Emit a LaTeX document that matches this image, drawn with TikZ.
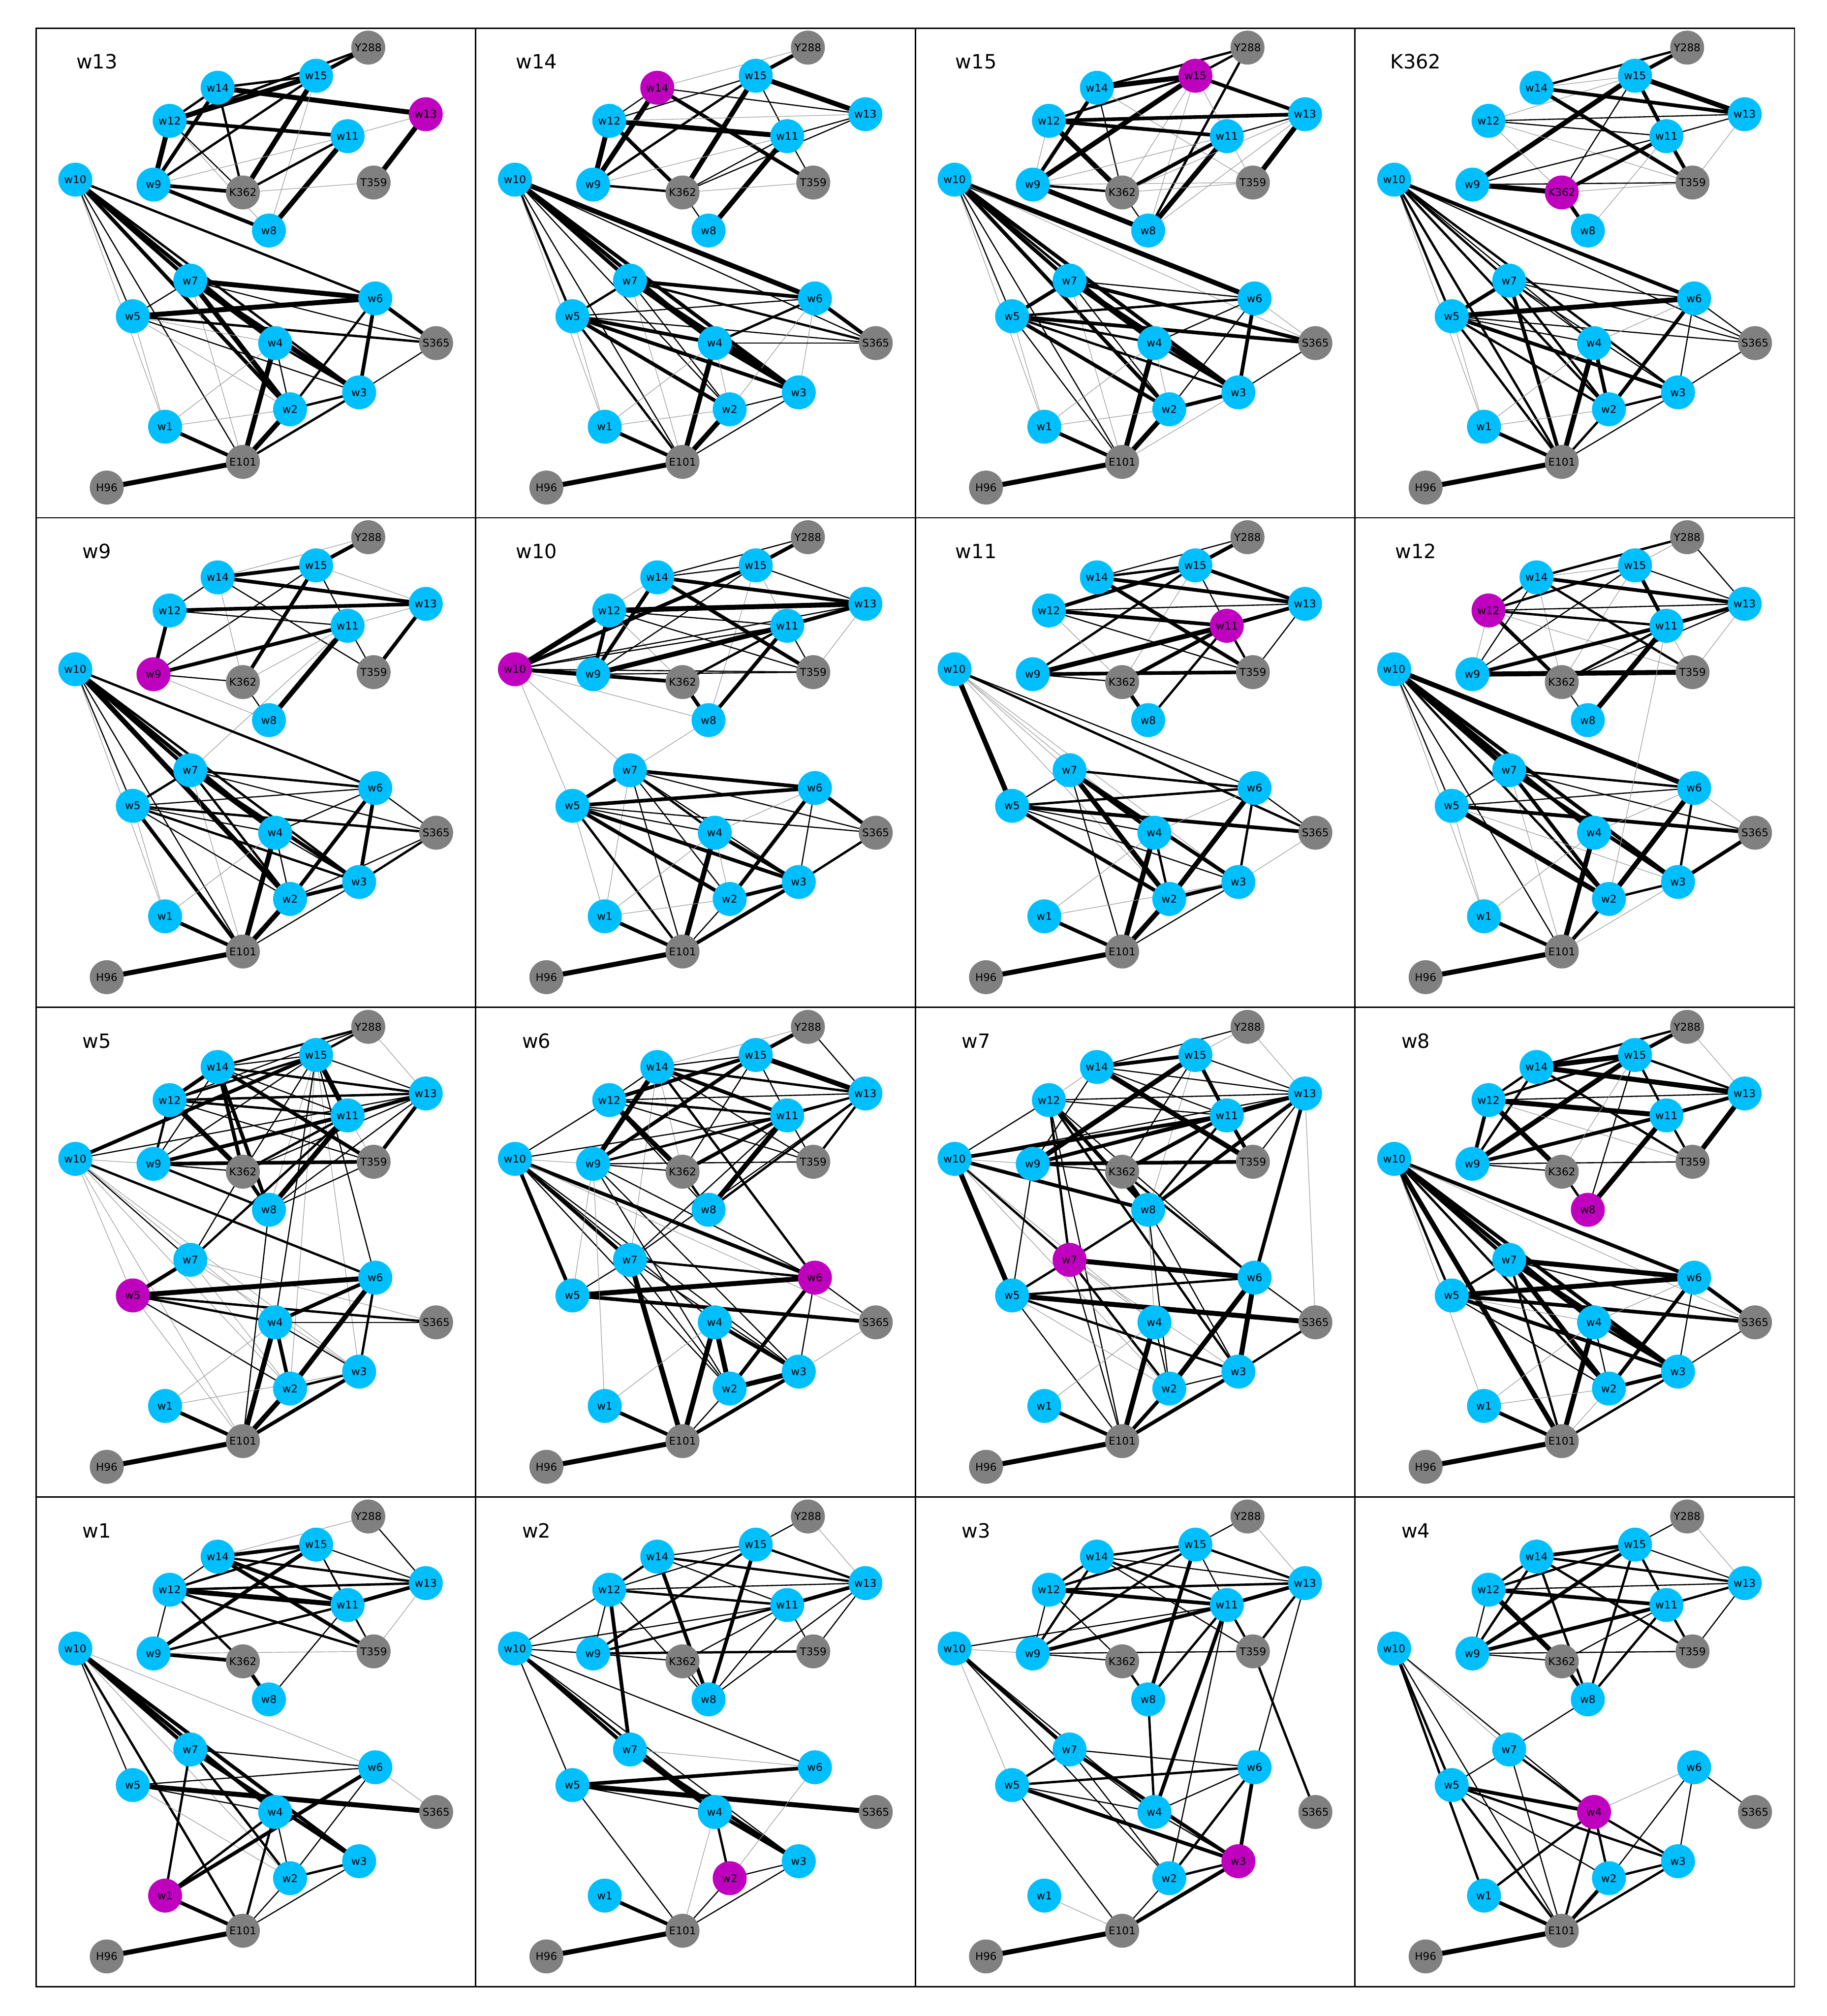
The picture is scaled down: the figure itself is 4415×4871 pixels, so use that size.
\documentclass[tikz,border=0pt]{standalone}
\usepackage{fontspec}
\setmainfont{DejaVu Sans}
\usepackage{xcolor}
\usepackage{tikz}
\usetikzlibrary{positioning}
\definecolor{wellc}{RGB}{0,191,255}
\definecolor{focusc}{RGB}{191,0,191}
\definecolor{resc}{RGB}{128,128,128}
\pgfdeclarelayer{edges}
\pgfsetlayers{edges,main}

\tikzset{
  wnode/.style={circle,fill=wellc,minimum size=0.82cm,inner sep=0pt,text=black,
    font=\fontsize{7.3}{8}\selectfont},
  rnode/.style={wnode,fill=resc},
  fnode/.style={wnode,fill=focusc},
  ptitle/.style={font=\fontsize{13.5}{16}\selectfont},
  pframe/.style={draw=black,line width=1pt},
  wt1/.style={line width=0.4pt,black!40},
  wt2/.style={line width=0.8pt,black},
  wt3/.style={line width=1.6pt,black},
  wt4/.style={line width=2.5pt,black},
  wt5/.style={line width=3.4pt,black},
}

% node layout shared by all panels (pixels, y downwards)
\def\layout{w1/312/963/w, w2/614/921/w, w3/781/880/w, w4/578/761/w, w5/234/696/w,
  w6/820/653/w, w7/373/610/w, w8/563/489/w, w9/284/378/w, w10/95/366/w,
  w11/753/261/w, w12/323/224/w, w13/942/208/w, w14/439/144/w, w15/677/115/w,
  Y288/803/47/r, T359/816/373/r, K362/500/397/r, S365/967/761/r,
  E101/500/1048/r, H96/171/1110/r}

% #1 column, #2 row, #3 focus node, #4 edges a/b/weight
\newcommand{\netpanel}[4]{%
  \begin{scope}[shift={({87+#1*1062.5},{68+#2*1183})}]
    \def\pp{p#1#2}\def\focus{#3}
    \draw[pframe] (0,0) rectangle (1062.5,1183);
    \node[ptitle] (\pp title) at (147,81) {#3};
    \foreach \n/\px/\py/\t in \layout {
      \edef\nm{\n}
      \ifx\nm\focus
        \node[fnode] (\pp\n) at (\px,\py) {\n};
      \else\if\t w
        \node[wnode] (\pp\n) at (\px,\py) {\n};
      \else
        \node[rnode] (\pp\n) at (\px,\py) {\n};
      \fi\fi
    }
    \begin{pgfonlayer}{edges}
      \foreach \a/\b/\w in {#4}
        \draw[wt\w] (\pp\a.center) -- (\pp\b.center);
    \end{pgfonlayer}
  \end{scope}}

\begin{document}
\begin{tikzpicture}[x=0.01cm,y=-0.01cm]
  \useasboundingbox (0,0) rectangle (4415,4871);
  % ---- row 1 ----
  \netpanel{0}{0}{w13}{Y288/w15/4, Y288/w12/3, w12/w15/5, w14/w15/3, w14/w13/5, w14/w12/3,
    w14/w9/4, w14/K362/3, w12/w11/4, w12/w9/5, w12/K362/2, w12/w8/1, w15/w9/3, w15/K362/5,
    w15/w8/1, w11/K362/3, w11/w8/5, w11/w9/1, w9/K362/4, w9/w8/4, w13/T359/5, T359/K362/1,
    w13/w11/1, w10/w6/3, w10/w7/4, w10/w4/4, w10/w3/3, w10/w2/4, w10/E101/2, w10/w5/2,
    w10/w1/1, w7/w6/5, w7/w5/2, w7/w3/5, w7/w2/5, w7/S365/2, w7/w4/3, w7/E101/1, w5/w6/5,
    w5/S365/3, w5/w3/2, w5/w2/1, w5/w4/1, w5/w1/1, w6/S365/4, w6/w3/4, w6/w2/3, w4/w2/2,
    w4/E101/5, w4/w1/1, w4/w3/3, S365/w3/2, w2/w3/3, w2/E101/5, w3/E101/3, w1/E101/4,
    w1/w2/1, H96/E101/5}
  \netpanel{1}{0}{w14}{Y288/w15/4, Y288/w14/1, w15/w13/5, w15/w12/2, w15/w9/3, w15/K362/5,
    w15/w11/2, w14/w13/2, w14/w12/2, w14/w9/5, w14/T359/4, w12/w11/5, w12/w9/5, w12/K362/4,
    w12/w13/1, w9/K362/3, w9/w11/1, w11/w13/2, w11/K362/2, w11/w8/5, w11/T359/2, K362/w8/2,
    K362/T359/1, w13/K362/2, w10/w6/5, w10/w7/4, w10/w4/4, w10/w5/3, w10/E101/2, w10/w2/2,
    w10/S365/2, w10/w3/4, w10/w1/1, w7/w6/4, w7/w5/3, w7/w3/5, w7/w4/3, w7/S365/3, w7/w2/2,
    w7/E101/1, w5/w6/2, w5/w4/4, w5/w3/4, w5/w2/4, w5/E101/3, w5/S365/2, w5/w1/1,
    w6/S365/4, w6/w4/3, w6/w2/1, w6/w3/1, w4/S365/2, w4/E101/5, w4/w2/1, w4/w3/4, w2/w3/2,
    w2/E101/5, w3/E101/2, w1/E101/4, w1/w2/1, w1/w4/1, H96/E101/5}
  \netpanel{2}{0}{w15}{Y288/w14/3, Y288/w15/3, Y288/w8/3, w15/w14/5, w15/w12/3, w15/w13/4,
    w15/w9/5, w15/K362/1, w15/w8/1, w15/T359/1, w14/w9/4, w14/K362/2, w14/T359/1,
    w12/w13/4, w12/w11/4, w12/K362/5, w12/w9/1, w9/K362/3, w9/w8/5, w9/w11/1, w9/T359/1,
    w11/K362/4, w11/w8/5, w11/w13/2, w13/T359/5, w13/K362/1, w13/w8/1, K362/w8/2,
    K362/T359/1, w10/w6/5, w10/w7/4, w10/w4/3, w10/w3/4, w10/w2/4, w10/E101/2, w10/w5/2,
    w10/S365/1, w10/w1/1, w7/w6/2, w7/S365/4, w7/w5/4, w7/w3/5, w7/w2/2, w7/w4/3,
    w7/E101/1, w5/w6/3, w5/S365/4, w5/w4/3, w5/w3/3, w5/w2/4, w5/E101/2, w5/w1/1, w6/w3/4,
    w6/w2/2, w6/w4/2, w6/S365/1, w4/E101/5, w4/w3/3, w4/w1/1, w4/w2/1, S365/w3/2, w2/w3/4,
    w2/E101/5, w3/E101/1, w1/E101/4, w1/w2/1, H96/E101/5}
  \netpanel{3}{0}{K362}{Y288/w14/3, Y288/w15/4, w15/w13/5, w15/w11/4, w15/w9/5,
    w15/K362/2, w15/w12/1, w15/w14/1, w14/w13/4, w14/T359/4, w12/w13/2, w12/w11/2,
    w12/T359/1, w12/K362/1, w11/w13/2, w11/T359/4, w11/w9/2, w11/K362/4, w11/w8/1,
    w9/K362/5, w9/T359/2, K362/w8/4, K362/T359/1, w13/T359/1, w10/w6/4, w10/S365/2,
    w10/w7/3, w10/w4/2, w10/w3/3, w10/w2/3, w10/E101/3, w10/w5/3, w10/w1/1, w7/w6/2,
    w7/S365/2, w7/w5/4, w7/w4/2, w7/w3/2, w7/w2/3, w7/E101/4, w5/w6/5, w5/S365/2, w5/w4/2,
    w5/w3/4, w5/w2/3, w5/E101/3, w5/w1/1, w6/S365/2, w6/w2/4, w6/w3/2, w6/w4/1, w4/E101/5,
    w4/w2/4, w4/w1/1, S365/w3/2, w2/w3/3, w2/E101/3, w3/E101/2, w1/E101/4, w1/w2/1,
    H96/E101/5}
  % ---- row 2 ----
  \netpanel{0}{1}{w9}{Y288/w15/4, Y288/w14/1, w15/w14/4, w15/K362/4, w15/w9/2, w15/w13/1,
    w15/w11/2, w14/w13/4, w14/w12/2, w14/T359/2, w14/K362/1, w12/w13/4, w12/w9/4,
    w12/w11/2, w9/w11/4, w9/K362/2, w9/w8/1, w11/w13/1, w11/T359/2, w11/w8/5, w11/K362/1,
    w13/T359/4, K362/w8/2, w11/w7/1, w10/w6/3, w10/w7/4, w10/w4/4, w10/w2/5, w10/w3/3,
    w10/w5/2, w10/E101/2, w10/w1/1, w7/w6/3, w7/S365/2, w7/w5/3, w7/w3/4, w7/w4/3,
    w7/w2/3, w7/E101/1, w5/w6/2, w5/S365/3, w5/w4/2, w5/w3/3, w5/w2/2, w5/E101/4, w5/w1/1,
    w6/w2/4, w6/w3/4, w6/w4/2, w6/S365/2, w4/E101/5, w4/w2/2, w4/w3/2, w4/w1/1, S365/w3/3,
    S365/w2/2, w2/w3/4, w2/E101/5, w3/E101/2, w1/E101/4, H96/E101/5}
  \netpanel{1}{1}{w10}{Y288/w15/4, Y288/w14/2, w15/w14/2, w15/w10/4, w15/w13/2, w15/w9/2,
    w15/w11/1, w15/w8/1, w14/w13/4, w14/T359/4, w14/w9/4, w14/w10/1, w12/w13/5, w12/w10/5,
    w12/w9/4, w12/T359/2, w12/K362/1, w12/w11/2, w10/w11/2, w10/w13/2, w10/w9/4,
    w10/K362/4, w10/T359/2, w10/w8/1, w9/w11/5, w9/w13/2, w9/T359/2, w9/K362/3, w11/w13/4,
    w11/K362/3, w11/w8/4, w11/T359/2, w13/T359/1, K362/w8/4, w10/w5/1, w10/w7/1, w8/w7/1,
    w7/w6/4, w7/w5/4, w7/S365/2, w7/w4/3, w7/w3/2, w7/w2/2, w7/E101/2, w7/w1/1, w5/w6/4,
    w5/S365/2, w5/w4/2, w5/w3/4, w5/w2/4, w5/E101/3, w5/w1/1, w6/S365/4, w6/w2/4, w6/w3/2,
    w6/w4/1, w4/w3/4, w4/E101/5, w4/w2/1, w4/w1/1, S365/w3/3, w2/w3/4, w2/E101/2,
    w3/E101/4, w1/E101/4, w1/w2/1, H96/E101/5}
  \netpanel{2}{1}{w11}{Y288/w14/2, Y288/w15/4, w15/w14/3, w15/w12/4, w15/w9/3, w15/w13/4,
    w15/w11/2, w15/K362/1, w14/w13/4, w14/T359/4, w12/w13/2, w12/w11/4, w12/T359/2,
    w12/K362/1, w9/w11/5, w9/T359/4, w9/K362/2, w11/K362/4, w11/w13/4, w11/T359/3,
    w11/w8/3, w13/T359/2, K362/w8/4, w10/w5/5, w10/S365/3, w10/w6/2, w10/w7/1, w10/w4/1,
    w10/w2/1, w10/w3/1, w7/w6/3, w7/w5/2, w7/w4/4, w7/w3/4, w7/w2/5, w7/E101/2, w5/w6/3,
    w5/S365/4, w5/w3/2, w5/w2/4, w5/w4/2, w6/w2/5, w6/w3/3, w6/S365/2, w6/w4/1, w4/E101/5,
    w4/w2/3, w4/w1/1, S365/w3/1, w2/w3/4, w2/E101/5, w3/E101/2, w1/E101/4, w1/w3/1,
    H96/E101/5}
  \netpanel{3}{1}{w12}{Y288/w14/3, Y288/w13/2, Y288/w15/1, w15/w12/3, w15/w13/2, w15/w11/4,
    w15/w9/2, w15/K362/1, w14/w12/3, w14/w13/4, w14/T359/3, w14/w9/2, w14/K362/1,
    w14/w15/1, w12/w13/2, w12/w11/3, w12/K362/4, w12/w9/1, w12/T359/1, w9/w11/4,
    w9/T359/5, w9/w13/2, w11/w13/4, w11/K362/3, w11/w8/5, w11/T359/1, w13/T359/1,
    K362/w8/2, K362/w13/2, w10/w6/5, w10/w7/5, w10/w4/4, w10/w3/4, w10/w2/3, w10/E101/2,
    w10/w5/2, w10/w1/1, w7/w6/3, w7/S365/2, w7/w5/2, w7/w3/4, w7/w2/4, w7/E101/1,
    w5/w6/2, w5/S365/4, w5/w2/5, w5/w3/1, w5/w1/1, w6/w2/5, w6/w3/3, w6/S365/1, w6/w4/1,
    w11/w2/1, w4/E101/5, w4/w1/1, S365/w3/4, w2/w3/3, w2/E101/4, w3/E101/1, w1/E101/4,
    H96/E101/5}
  % ---- row 3 ----
  \netpanel{0}{2}{w5}{Y288/w14/3, Y288/w15/3, Y288/w12/2, Y288/w13/1, w15/w10/4,
    w15/w12/3, w15/w14/2, w15/w13/2, w15/w11/5, w15/K362/2, w15/w9/2, w15/w8/1, w15/w4/2,
    w15/w2/1, w15/w3/1, w15/w6/2, w14/w12/4, w14/w13/3, w14/T359/4, w14/K362/4, w14/w8/4,
    w14/w9/2, w14/w11/2, w12/w13/3, w12/w11/3, w12/K362/5, w12/w9/3, w12/T359/2,
    w9/w13/2, w9/w11/4, w9/T359/4, w9/K362/2, w9/w8/3, w11/w13/4, w11/w8/5, w11/K362/3,
    w11/w7/3, w11/T359/1, w13/T359/4, w13/w8/2, w13/K362/2, T359/w8/2, K362/w8/4,
    K362/w7/2, w10/w13/2, w10/w9/1, w10/w6/3, w10/w5/1, w10/w7/2, w10/w4/1, w10/w2/1,
    w10/w3/1, w10/E101/1, w7/w5/4, w7/S365/1, w7/w3/1, w7/w2/1, w5/w6/5, w5/S365/3,
    w5/w4/3, w5/w2/2, w5/E101/1, w6/w4/4, w6/w2/5, w6/w3/3, w4/S365/2, w4/E101/5,
    w4/w2/4, w4/w3/2, w4/w1/1, w2/w3/3, w2/E101/5, w3/E101/4, w1/E101/4, w1/w3/1,
    w8/E101/2, H96/E101/5}
  \netpanel{1}{2}{w6}{Y288/w15/4, Y288/w14/1, Y288/w13/2, w15/w14/2, w15/w12/4, w15/w13/5,
    w15/w9/4, w15/w11/2, w15/K362/2, w14/w12/2, w14/w9/5, w14/w13/3, w14/w11/4,
    w14/T359/2, w14/w6/3, w14/K362/1, w14/w7/1, w12/w13/2, w12/w11/3, w12/T359/2,
    w12/K362/5, w12/w10/2, w12/w8/2, w9/w11/3, w9/w13/2, w9/T359/2, w9/K362/2, w9/w6/2,
    w9/w3/2, w9/w2/2, w10/w11/2, w10/w9/1, w11/w13/3, w11/K362/4, w11/w8/5, w11/T359/2,
    w11/w7/2, w13/T359/3, w13/w8/3, w13/w7/2, K362/w8/3, w10/w5/4, w10/w6/4, w10/w7/4,
    w10/w4/2, w10/w3/2, w10/w2/2, w10/S365/1, w7/w6/3, w7/E101/5, w7/w5/2, w7/w3/2,
    w7/w2/2, w5/w6/5, w5/S365/4, w5/w9/1, w6/w2/4, w6/w3/2, w6/S365/2, w4/w3/4, w4/w2/5,
    w4/E101/5, w4/w1/1, S365/w3/1, w2/w3/5, w2/E101/2, w3/E101/4, w1/E101/4, w1/w9/1,
    H96/E101/5}
  \netpanel{2}{2}{w7}{Y288/w14/2, Y288/w15/1, Y288/w13/1, w15/w14/4, w15/w9/5, w15/w13/2,
    w15/w11/4, w15/K362/2, w15/w8/1, w14/w13/2, w14/T359/5, w14/w11/2, w14/w9/2,
    w14/w12/1, w12/w13/2, w12/w11/2, w12/w10/2, w12/w7/3, w12/w8/4, w12/w3/3, w12/w6/2,
    w12/E101/2, w10/w11/4, w10/w13/2, w10/w8/4, w10/w9/1, w9/w13/4, w9/w11/3, w9/T359/4,
    w9/K362/2, w11/K362/4, w11/T359/4, w11/w8/3, w11/w13/4, w13/w8/4, w13/T359/2,
    w13/w6/4, w13/S365/1, K362/w8/4, K362/w6/3, w10/w5/5, w10/w7/3, w10/w4/1, w10/w2/1,
    w8/w7/3, w8/w2/2, w8/w3/2, w8/w4/1, w7/w6/5, w7/w5/3, w7/w2/3, w7/w4/1, w7/E101/2,
    w7/w3/1, w9/w5/2, w5/w6/3, w5/S365/5, w5/w3/3, w5/E101/2, w5/w2/1, w6/w3/5, w6/w2/5,
    w6/S365/2, w4/E101/5, w4/w1/1, w4/w2/2, S365/w3/3, w2/w3/2, w2/E101/4, w3/E101/4,
    w1/E101/4, H96/E101/5}
  \netpanel{3}{2}{w8}{Y288/w15/4, Y288/w14/3, Y288/w13/1, w15/w14/5, w15/w12/3, w15/w9/5,
    w15/w13/3, w15/w11/3, w15/w8/2, w14/w12/3, w14/w13/5, w14/T359/3, w14/w9/3,
    w12/w13/2, w12/w11/5, w12/w9/4, w12/K362/5, w12/T359/1, w9/w11/4, w9/T359/2,
    w9/K362/2, w11/w13/4, w11/w8/5, w11/T359/3, w13/T359/5, K362/w8/3, K362/w15/1,
    w10/w6/4, w10/w7/4, w10/w4/4, w10/w3/4, w10/w2/3, w10/E101/5, w10/w5/3, w10/S365/1,
    w10/w1/1, w7/w6/5, w7/w5/3, w7/w3/5, w7/w2/5, w7/E101/3, w7/S365/2, w7/w4/2, w5/w6/5,
    w5/S365/4, w5/w3/4, w5/w2/2, w5/w4/1, w6/S365/4, w6/w2/4, w6/w3/2, w6/w4/1, w4/E101/5,
    w4/w2/2, w4/w3/3, w4/w1/1, S365/w3/2, w2/w3/4, w2/E101/1, w3/E101/3, w1/E101/4,
    w1/w2/1, H96/E101/5}
  % ---- row 4 ----
  \netpanel{0}{3}{w1}{Y288/w14/1, Y288/w13/2, w15/w14/4, w15/w12/3, w15/w9/4, w15/w11/2,
    w15/w13/2, w15/T359/2, w14/w12/2, w14/w11/4, w14/T359/4, w14/w13/3, w12/w11/5,
    w12/w13/3, w12/w9/2, w12/K362/3, w12/T359/3, w9/w11/3, w9/K362/4, w9/T359/1,
    w11/w13/4, w11/w8/2, w11/T359/2, K362/w8/4, w13/T359/1, w10/w7/4, w10/w4/4, w10/w3/4,
    w10/w6/1, w10/E101/3, w10/w5/2, w10/w2/1, w7/w6/2, w7/w3/4, w7/w2/3, w7/w1/3, w5/w6/2,
    w5/S365/5, w5/w4/2, w5/w2/1, w6/w1/4, w6/w2/2, w6/S365/1, w4/E101/3, w4/w2/2, w4/w1/3,
    w2/w3/3, w2/E101/2, w1/E101/4, w3/E101/2, H96/E101/5}
  \netpanel{1}{3}{w2}{Y288/w15/2, Y288/w13/1, w15/w14/2, w15/w13/3, w15/w12/2, w15/w9/3,
    w15/w8/4, w14/w13/3, w14/w12/3, w14/w11/2, w14/w8/4, w12/w11/3, w12/w13/2, w12/w7/4,
    w12/w10/2, w12/w9/2, w12/w8/2, w9/w11/3, w9/T359/3, w9/K362/2, w9/w10/2, w11/w13/4,
    w11/w8/2, w11/T359/2, w11/K362/2, w13/T359/2, w13/w8/2, K362/w8/2, w10/w11/2,
    w10/w7/4, w10/w4/3, w10/w5/2, w10/w6/2, w10/w3/2, w7/w6/1, w7/w4/4, w7/w3/4, w5/w6/4,
    w5/S365/5, w5/w4/2, w5/E101/2, w4/w3/4, w4/w2/3, w4/E101/1, w2/w3/2, w2/E101/2,
    w2/w6/1, w1/E101/4, w3/E101/2, H96/E101/5}
  \netpanel{2}{3}{w3}{Y288/w15/2, Y288/w13/1, w15/w14/3, w15/w12/3, w15/w13/3, w15/w9/3,
    w15/w8/4, w15/w11/2, w14/w12/3, w14/w9/3, w14/w11/3, w14/T359/2, w14/w13/2,
    w12/w11/4, w12/w13/3, w12/w9/2, w12/K362/2, w9/w11/4, w9/K362/2, w9/T359/2,
    w10/w11/2, w10/w9/1, w11/w13/4, w11/w8/3, w11/T359/3, w11/w4/4, w11/w2/2, w13/T359/3,
    w13/w6/2, T359/S365/3, K362/w8/3, w8/w4/3, w10/w7/4, w10/w5/1, w10/w4/2, w10/w2/2,
    w7/w3/4, w7/w6/2, w7/w5/3, w7/w4/2, w7/w2/2, w5/w6/3, w5/w3/4, w5/E101/2, w5/w4/2,
    w6/w3/4, w6/w2/3, w6/w4/2, w4/w3/2, w2/w3/3, w3/E101/4, w2/E101/2, w1/E101/1,
    H96/E101/5}
  \netpanel{3}{3}{w4}{Y288/w15/2, Y288/w13/1, w15/w14/4, w15/w12/3, w15/w9/4, w15/w13/2,
    w15/w11/3, w15/w8/3, w14/w12/3, w14/w13/3, w14/T359/3, w14/w9/3, w14/w8/3, w12/w11/4,
    w12/K362/5, w12/w9/2, w12/w13/2, w9/w11/4, w9/T359/2, w9/K362/2, w11/w13/3, w11/w8/3,
    w11/T359/3, w11/K362/2, w13/T359/2, K362/w8/4, w8/w7/2, w10/w5/3, w10/w1/3, w10/w4/2,
    w10/E101/2, w10/w7/1, w7/w4/3, w7/E101/2, w7/w5/2, w5/w4/4, w5/w3/3, w5/w2/2,
    w5/E101/3, w4/w1/3, w4/w2/3, w4/w3/3, w4/E101/3, w4/w6/1, w6/w3/2, w6/w2/2,
    w6/S365/2, w2/w3/3, w2/E101/4, w1/E101/4, w3/E101/3, H96/E101/5}
\end{tikzpicture}
\end{document}
